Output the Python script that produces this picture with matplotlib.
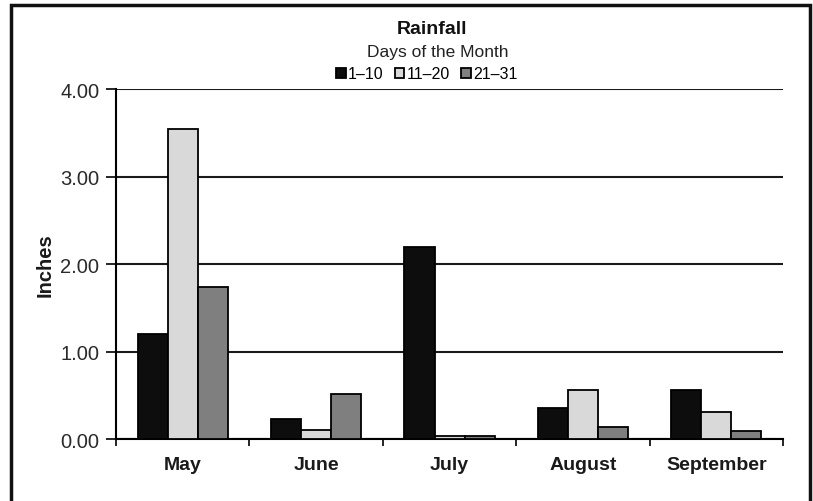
import matplotlib.pyplot as plt
import numpy as np
from matplotlib.patches import Rectangle

plt.rcParams["font.family"] = ["Liberation Sans", "DejaVu Sans"]

months = ["May", "June", "July", "August", "September"]
series_names = ["1\u201310", "11\u201320", "21\u201331"]
days_1_10 = [1.20, 0.23, 2.19, 0.35, 0.56]
days_11_20 = [3.54, 0.10, 0.04, 0.56, 0.31]
days_21_31 = [1.74, 0.51, 0.04, 0.14, 0.09]
y_ticks = [0.0, 1.0, 2.0, 3.0, 4.0]

colors = ["#0d0d0d", "#d9d9d9", "#7f7f7f"]

fig = plt.figure(figsize=(8.13, 5.02), dpi=100)
ax = fig.add_axes([0.1427, 0.1235, 0.8204, 0.6972])

x = np.arange(len(months))
width = 0.225
for k, (vals, name, col) in enumerate(zip([days_1_10, days_11_20, days_21_31],
                                           series_names, colors)):
    ax.bar(x + (k - 1) * width, vals, width, color=col, edgecolor="black",
           linewidth=1.3, label=name, zorder=3)

ax.set_xlim(-0.5, len(months) - 0.5)
ax.set_ylim(0, 4.0)
ax.set_yticks(y_ticks)
ax.set_yticklabels([f"{v:.2f}" for v in y_ticks], fontsize=14.5, color="#2a2a2a")
ax.yaxis.grid(True, color="#1a1a1a", linewidth=1.5, zorder=0)
ax.set_axisbelow(True)

# category labels centred under groups, ticks on group boundaries
ax.set_xticks(np.arange(len(months) + 1) - 0.5)
ax.set_xticklabels([])
ax.set_xticks(x, minor=True)
ax.set_xticklabels(months, minor=True, fontsize=14, fontweight="bold",
                   color="#1a1a1a")
ax.tick_params(axis="x", which="minor", length=0, pad=12)
ax.tick_params(axis="x", which="major", length=5, width=1.2, direction="out")
ax.tick_params(axis="y", length=7, width=1.2, pad=5)

for side in ["top", "right"]:
    ax.spines[side].set_visible(False)
for side in ["left", "bottom"]:
    ax.spines[side].set_linewidth(1.5)

ax.set_ylabel("Inches", fontsize=14.5, fontweight="bold", labelpad=4,
              color="#1a1a1a")

fig.text(0.531, 0.942, "Rainfall", ha="center", va="center",
         fontsize=14, fontweight="bold", color="#111111")
fig.text(0.538, 0.896, "Days of the Month", ha="center", va="center",
         fontsize=12.5, color="#222222")
fig.legend(loc="center", bbox_to_anchor=(0.525, 0.851), ncol=3, frameon=False,
           fontsize=11.5, handlelength=0.6, handleheight=0.6, handletextpad=0.15,
           columnspacing=0.7, borderpad=0)

# outer frame around the chart
fig.add_artist(Rectangle((11 / 813, -0.02), (810 - 11) / 813, 1 - 6 / 502 + 0.02,
                         transform=fig.transFigure, fill=False,
                         edgecolor="#111111", linewidth=2.5))

fig.savefig("out.png", dpi=100)
